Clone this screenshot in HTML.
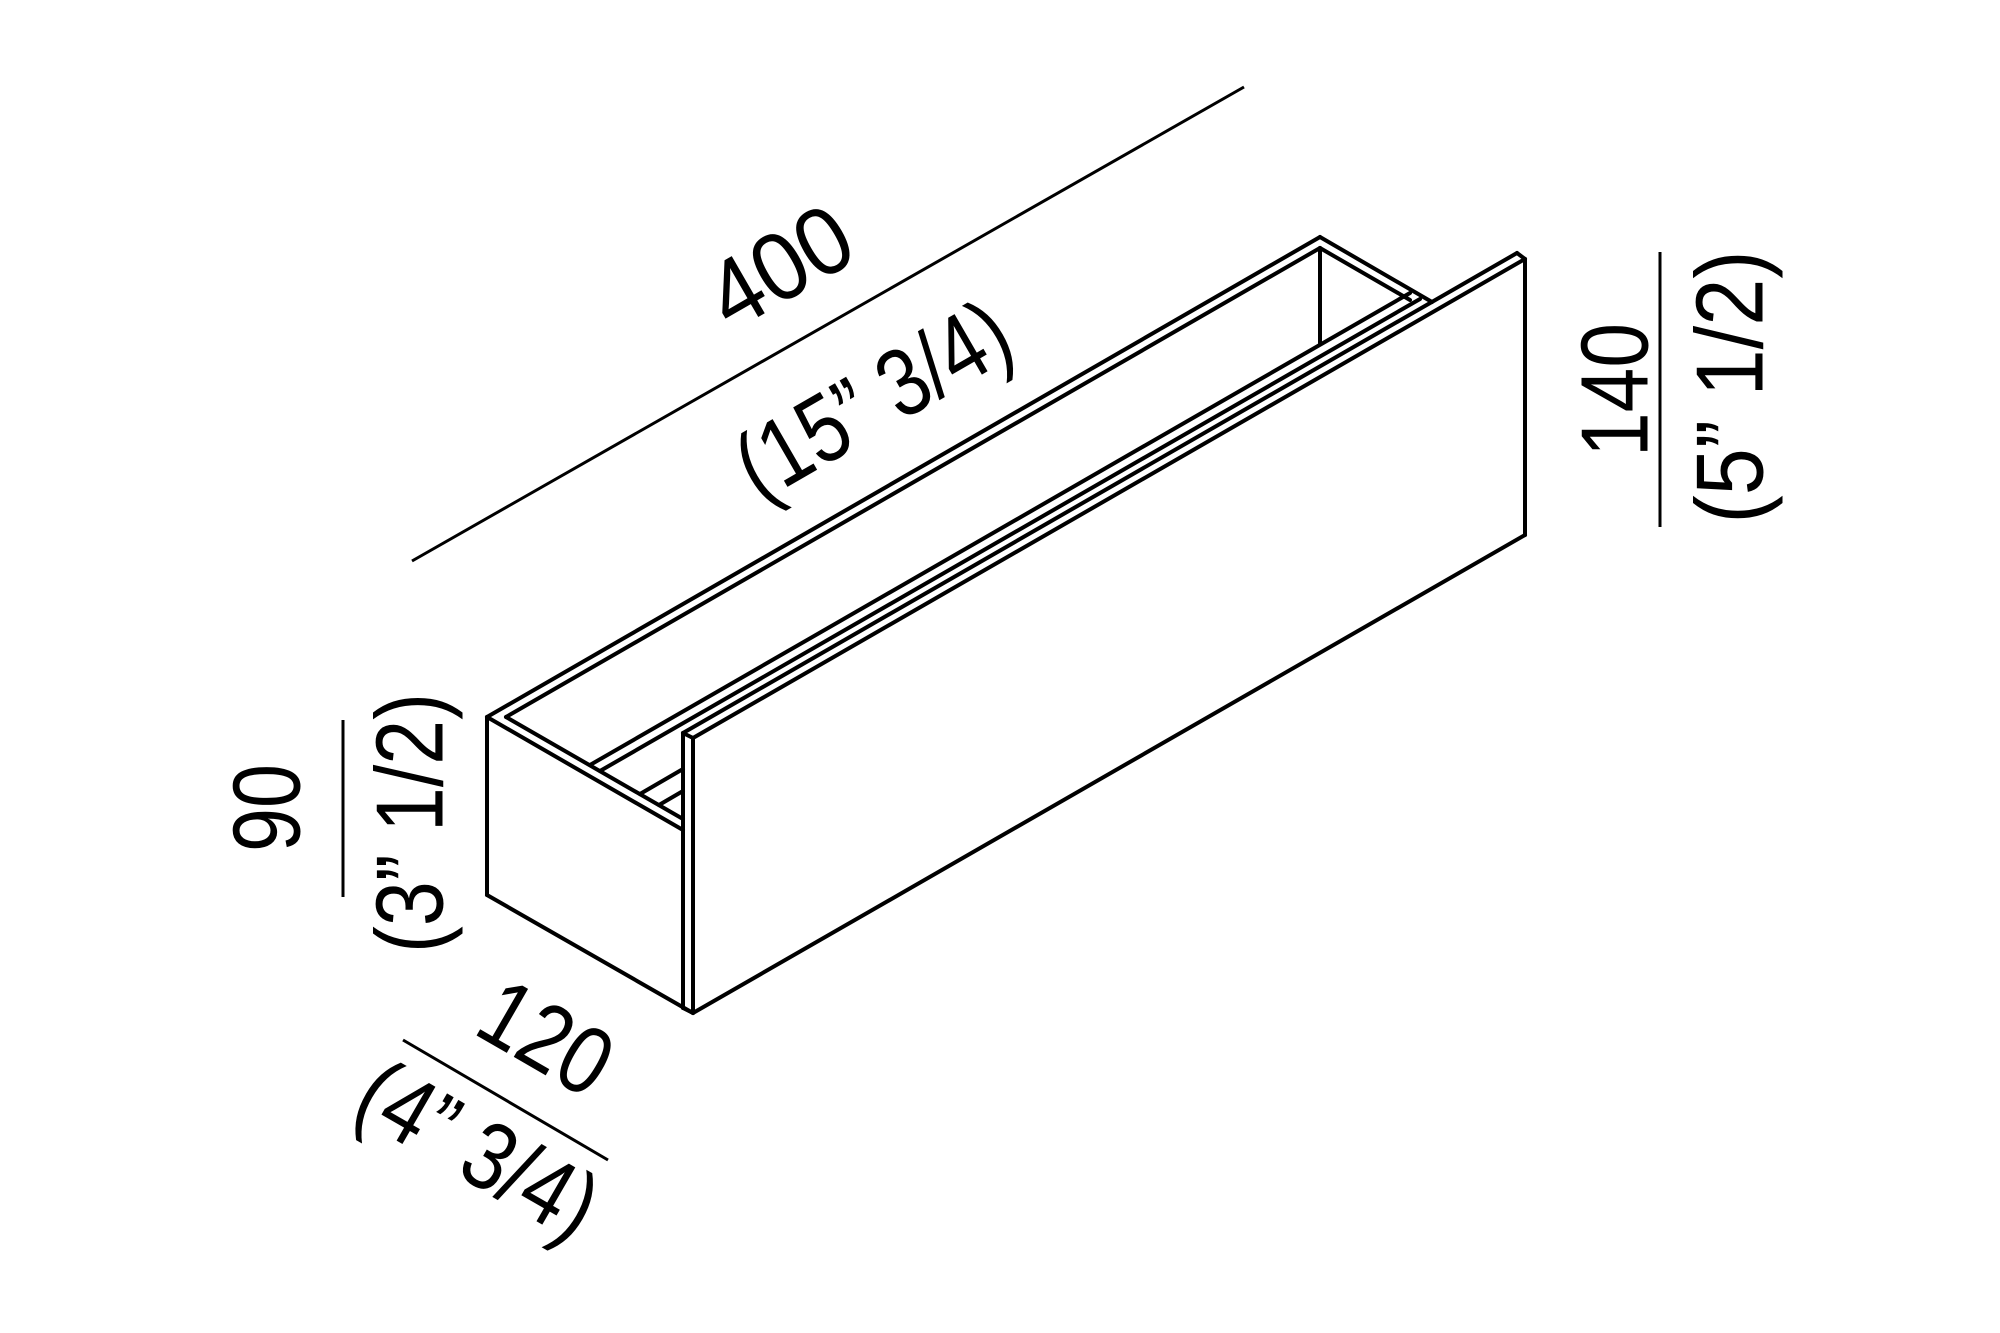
<!DOCTYPE html>
<html><head><meta charset="utf-8"><style>
html,body{margin:0;padding:0;background:#fff;}
svg{display:block;}
text{font-family:"Liberation Sans",sans-serif;font-size:96px;fill:#000;}
</style></head><body>
<svg width="2000" height="1333" viewBox="0 0 2000 1333" xmlns="http://www.w3.org/2000/svg">
<g stroke="#000" stroke-width="4" fill="none" stroke-linecap="round" stroke-linejoin="round">
  <!-- left box -->
  <line x1="487" y1="717" x2="487" y2="895"/>
  <line x1="487" y1="895" x2="693" y2="1013"/>
  <line x1="487" y1="717" x2="683" y2="830"/>
  <line x1="506" y1="717" x2="683" y2="819"/>
  <!-- back rim -->
  <line x1="487" y1="717" x2="1320" y2="237"/>
  <line x1="506" y1="717" x2="1320" y2="248"/>
  <line x1="1320" y1="237" x2="1432" y2="302"/>
  <line x1="1320" y1="248" x2="1410" y2="300"/>
  <line x1="1320" y1="248" x2="1320" y2="343"/>
  <!-- rails -->
  <line x1="590" y1="765" x2="1410" y2="293"/>
  <line x1="600" y1="771" x2="1420" y2="299"/>
  <!-- hidden short lines -->
  <line x1="640" y1="794" x2="683" y2="769"/>
  <line x1="659" y1="805" x2="683" y2="791"/>
  <!-- front panel -->
  <line x1="683" y1="733" x2="683" y2="1008"/>
  <line x1="693" y1="738" x2="693" y2="1013"/>
  <line x1="683" y1="1008" x2="693" y2="1013"/>
  <line x1="683" y1="733" x2="693" y2="738"/>
  <line x1="683" y1="733" x2="1517" y2="253"/>
  <line x1="693" y1="738" x2="1525" y2="259"/>
  <line x1="1517" y1="253" x2="1525" y2="259"/>
  <line x1="1525" y1="259" x2="1525" y2="535"/>
  <line x1="693" y1="1013" x2="1525" y2="535"/>
</g>
<g stroke="#000" stroke-width="3" fill="none">
  <line x1="412" y1="561" x2="1244" y2="87"/>
  <line x1="1660" y1="252" x2="1660" y2="527"/>
  <line x1="343" y1="720" x2="343" y2="897"/>
  <line x1="403" y1="1040" x2="608" y2="1160"/>
</g>
<text transform="translate(780,267) rotate(-30)" text-anchor="middle" dominant-baseline="central" textLength="150" lengthAdjust="spacingAndGlyphs">400</text>
<text transform="translate(873,400) rotate(-30)" text-anchor="middle" dominant-baseline="central" textLength="300" lengthAdjust="spacingAndGlyphs">(15” 3/4)</text>
<text transform="translate(1615,390) rotate(-90)" text-anchor="middle" dominant-baseline="central" textLength="134" lengthAdjust="spacingAndGlyphs">140</text>
<text transform="translate(1730,387) rotate(-90)" text-anchor="middle" dominant-baseline="central" textLength="273" lengthAdjust="spacingAndGlyphs">(5” 1/2)</text>
<text transform="translate(267,808) rotate(-90)" text-anchor="middle" dominant-baseline="central" textLength="88" lengthAdjust="spacingAndGlyphs">90</text>
<text transform="translate(410,823) rotate(-90)" text-anchor="middle" dominant-baseline="central" textLength="260" lengthAdjust="spacingAndGlyphs">(3” 1/2)</text>
<text transform="translate(546,1038) rotate(30)" text-anchor="middle" dominant-baseline="central" textLength="135" lengthAdjust="spacingAndGlyphs">120</text>
<text transform="translate(478,1150) rotate(30)" text-anchor="middle" dominant-baseline="central" textLength="260" lengthAdjust="spacingAndGlyphs">(4” 3/4)</text>
</svg>
</body></html>
